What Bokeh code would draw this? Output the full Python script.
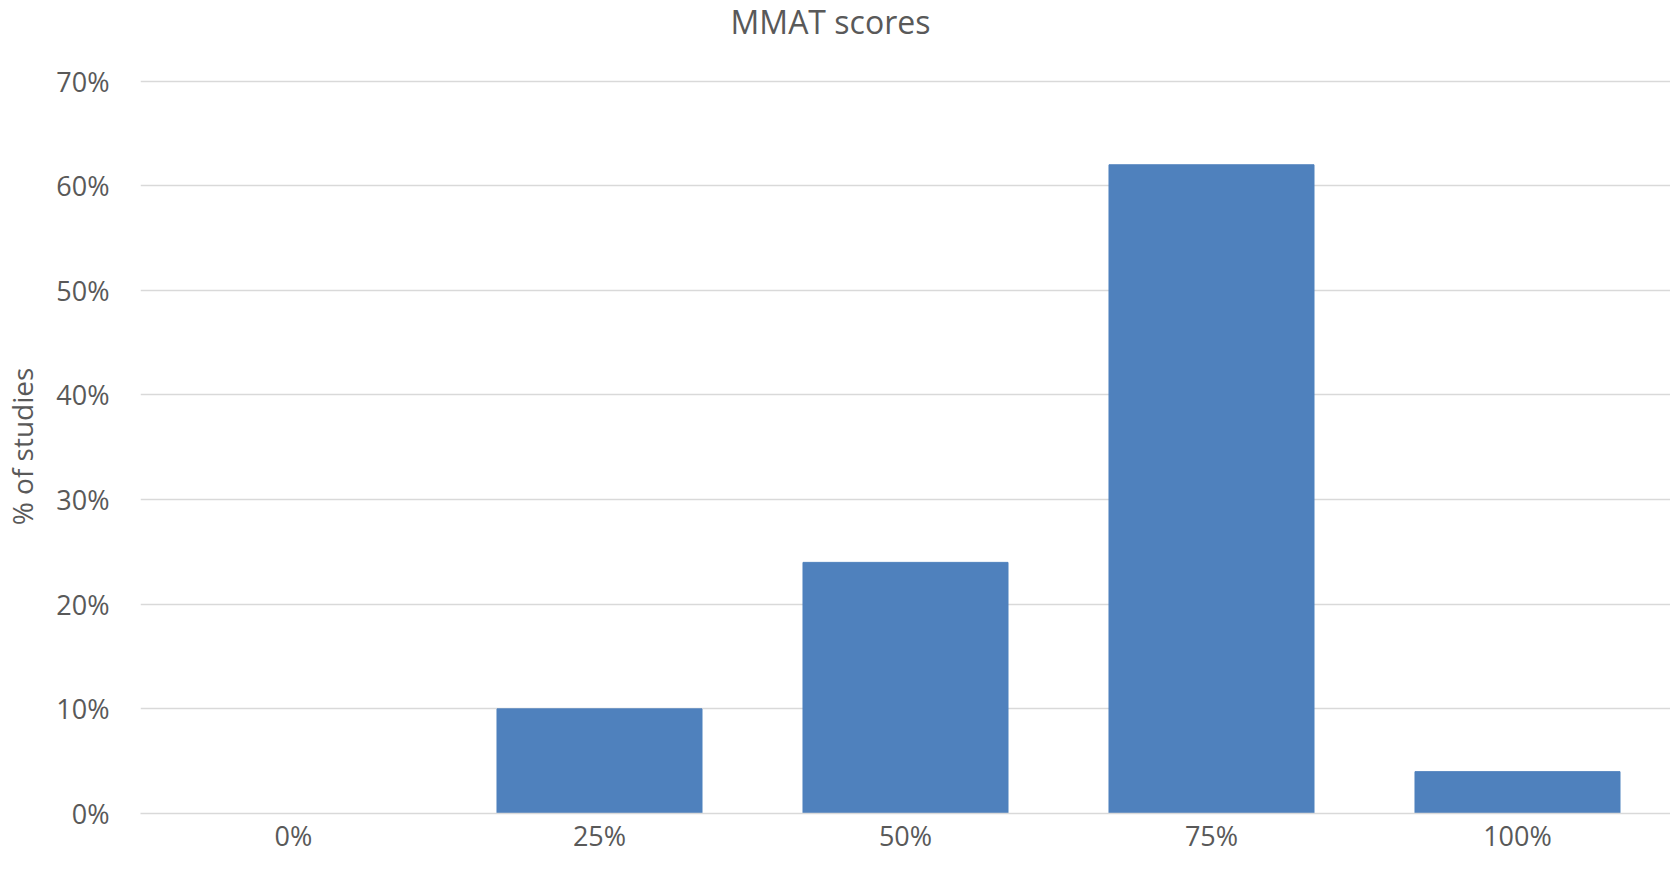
from bokeh.plotting import figure
from bokeh.models import FixedTicker, Range1d, FactorRange, Div
from bokeh.layouts import column
from bokeh.embed import file_html
from bokeh.resources import INLINE

categories = ["0%", "25%", "50%", "75%", "100%"]
values = [0, 10, 24, 62, 4]
y_ticks = [0, 10, 20, 30, 40, 50, 60, 70]
y_tick_labels = ["0%", "10%", "20%", "30%", "40%", "50%", "60%", "70%"]
title_text = "MMAT scores"

FONT = "Open Sans"
TXT = "#595959"
GRID = "#D9D9D9"

title = Div(text=title_text, width=1661, height=44, margin=0,
            styles={"font-family": FONT, "font-size": "32px", "color": TXT,
                    "text-align": "center", "line-height": "44px", "width": "1661px"})

p = figure(x_range=FactorRange(*categories), y_range=Range1d(0, 70.15),
           frame_width=1530, frame_height=734, output_backend="svg", toolbar_location=None,
           min_border_left=131, min_border_right=0, min_border_top=35, min_border_bottom=40)

p.vbar(x=categories, top=values, width=0.67, fill_color="#4F81BD", line_color="#4F81BD")

p.outline_line_color = None
p.xgrid.grid_line_color = None
p.ygrid.grid_line_color = GRID
p.ygrid.grid_line_width = 1.5

p.yaxis.ticker = FixedTicker(ticks=y_ticks)
p.yaxis.major_label_overrides = {t: l for t, l in zip(y_ticks, y_tick_labels)}
p.yaxis.axis_line_color = None
p.yaxis.major_tick_line_color = None
p.yaxis.minor_tick_line_color = None
p.yaxis.major_tick_out = 0
p.yaxis.major_label_standoff = 31
p.yaxis.axis_label = "% of studies"
p.yaxis.axis_label_standoff = 12

p.xaxis.axis_line_color = GRID
p.xaxis.axis_line_width = 1.5
p.xaxis.major_tick_line_color = None
p.xaxis.major_tick_out = 0
p.xaxis.major_label_standoff = 3

for ax in (p.xaxis[0], p.yaxis[0]):
    ax.major_label_text_font = FONT
    ax.major_label_text_font_size = "27px"
    ax.major_label_text_color = TXT
    ax.axis_label_text_font = FONT
    ax.axis_label_text_font_size = "28px"
    ax.axis_label_text_font_style = "normal"
    ax.axis_label_text_color = TXT

layout = column(title, p, spacing=0)
open("out.html", "w").write(file_html(layout, INLINE))
